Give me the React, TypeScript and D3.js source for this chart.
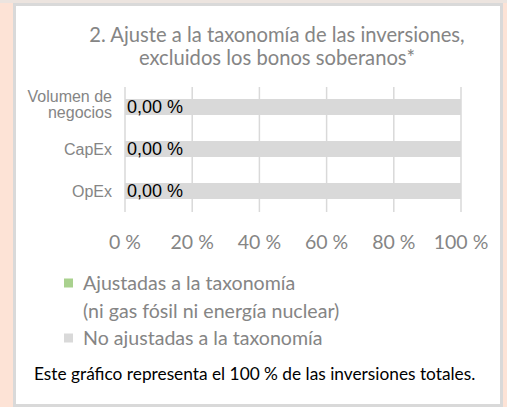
import React from "react";
import * as d3 from "d3";

const categories = ["Volumen de negocios", "CapEx", "OpEx"];
const categoryLines = [["Volumen de", "negocios"], ["CapEx"], ["OpEx"]];
const alignedValues = [0, 0, 0];
const notAlignedValues = [100, 100, 100];
const xTicks = [0, 20, 40, 60, 80, 100];
const titleLines = ["2. Ajuste a la taxonomía de las inversiones,", "excluidos los bonos soberanos*"];
const legendItems = [
  { lines: ["Ajustadas a la taxonomía", "(ni gas fósil ni energía nuclear)"], color: "#a9d18e" },
  { lines: ["No ajustadas a la taxonomía"], color: "#d9d9d9" },
];
const footnote = "Este gráfico representa el 100 % de las inversiones totales.";

const W = 507;
const H = 407;
const CAL = "Lato, 'Open Sans', sans-serif";
const ARIAL = "'Liberation Sans', Arial, sans-serif";

export default function App() {
  const x = d3.scaleLinear().domain([0, 100]).range([125, 461]);
  const y = d3.scaleBand<string>().domain(categories).range([86, 212]).paddingInner(0.62).paddingOuter(0.31);
  const fmt = (v: number) => v.toFixed(2).replace(".", ",") + " %";

  return (
    <svg width={W} height={H} style={{ position: "absolute", left: 0, top: 0 }}>
      <rect x={0} y={0} width={W} height={H} fill="#fde3d6" />
      <rect x={0} y={0} width={W} height={3} fill="#ece4df" />
      <rect x={14.5} y={4.5} width={487} height={401} fill="#ffffff" stroke="#d9d9d9" strokeWidth={3} />

      {titleLines.map((t, i) => (
        <text key={i} x={277} y={42 + i * 23} textAnchor="middle" fontFamily={CAL} fontSize={20.2} fill="#858585">
          {t}
        </text>
      ))}

      {xTicks.map((t) => (
        <line key={t} x1={x(t)} x2={x(t)} y1={87} y2={212} stroke="#d9d9d9" strokeWidth={1.5} />
      ))}

      {categories.map((c, i) => (
        <g key={c}>
          <rect
            x={x(alignedValues[i])}
            y={y(c)}
            width={x(alignedValues[i] + notAlignedValues[i]) - x(alignedValues[i])}
            height={y.bandwidth()}
            fill="#d9d9d9"
          />
          <rect x={x(0)} y={y(c)} width={x(alignedValues[i]) - x(0)} height={y.bandwidth()} fill="#a9d18e" />
          <text x={x(0) + 2} y={(y(c) as number) + y.bandwidth() / 2 + 6} fontFamily={ARIAL} fontSize={18} fill="#000">
            {fmt(alignedValues[i])}
          </text>
          {categoryLines[i].map((l, j) => (
            <text
              key={j}
              x={112}
              y={(y(c) as number) + y.bandwidth() / 2 + 5.5 + (j - (categoryLines[i].length - 1) / 2) * 16.5 - (categoryLines[i].length > 1 ? 2.5 : 0)}
              textAnchor="end"
              fontFamily={ARIAL}
              fontSize={16}
              fill="#858585"
            >
              {l}
            </text>
          ))}
        </g>
      ))}

      {xTicks.map((t) => (
        <text key={t} x={x(t)} y={249} textAnchor="middle" fontFamily={CAL} fontSize={19.5} fill="#858585">
          {t} %
        </text>
      ))}

      {(() => {
        let row = 0;
        return legendItems.map((it, i) => {
          const startRow = row;
          row += it.lines.length;
          return (
            <g key={i}>
              <rect x={64} y={278.5 + startRow * 27.5} width={9} height={9} fill={it.color} />
              {it.lines.map((l, j) => (
                <text key={j} x={83} y={290 + (startRow + j) * 27.5} fontFamily={CAL} fontSize={19.6} fill="#858585">
                  {l}
                </text>
              ))}
            </g>
          );
        });
      })()}

      <text x={34} y={380} fontFamily={CAL} fontSize={17.3} fill="#000">
        {footnote}
      </text>
    </svg>
  );
}
